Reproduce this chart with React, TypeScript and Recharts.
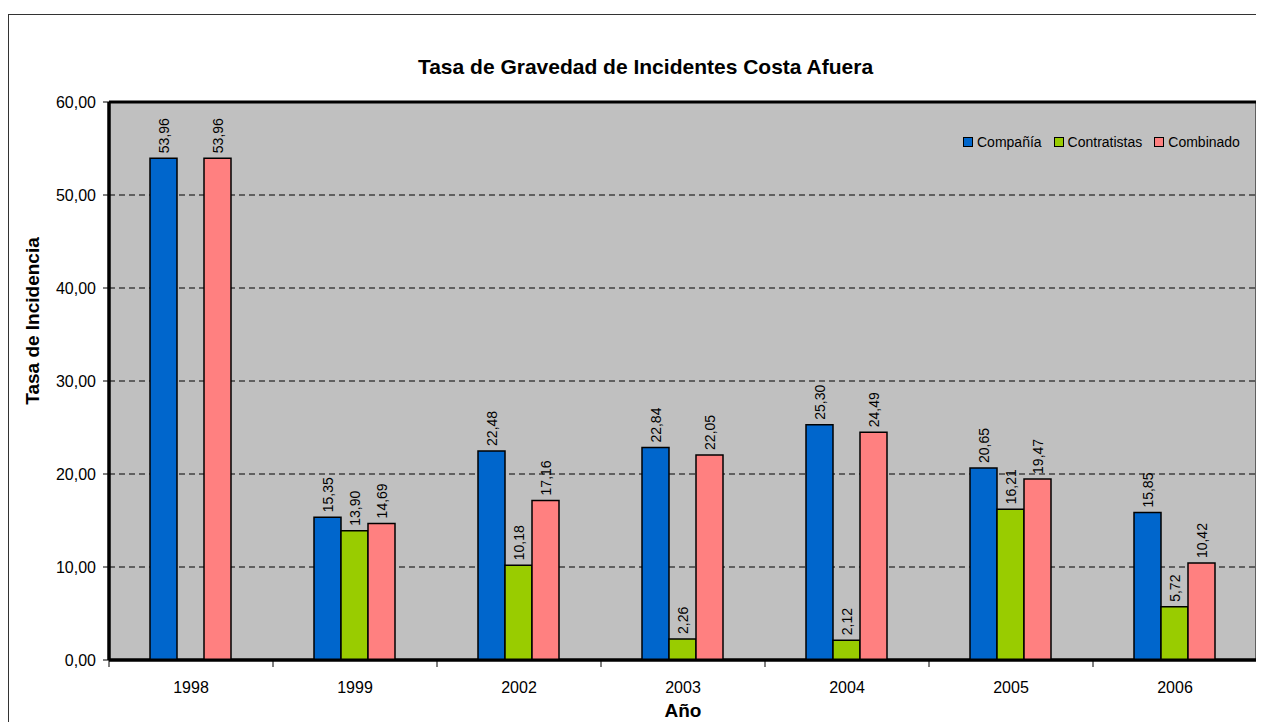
import React from 'react';
import {
  BarChart,
  Bar,
  XAxis,
  YAxis,
  CartesianGrid,
  LabelList,
} from 'recharts';

const years = ['1998', '1999', '2002', '2003', '2004', '2005', '2006'];
const compania = [53.96, 15.35, 22.48, 22.84, 25.3, 20.65, 15.85];
const contratistas = [null, 13.9, 10.18, 2.26, 2.12, 16.21, 5.72];
const combinado = [53.96, 14.69, 17.16, 22.05, 24.49, 19.47, 10.42];
const yTicks = [0, 10, 20, 30, 40, 50, 60];

const FONT = '"Liberation Sans", Arial, sans-serif';

const series = [
  { key: 'compania', name: 'Compañía', color: '#0066CC' },
  { key: 'contratistas', name: 'Contratistas', color: '#99CC00' },
  { key: 'combinado', name: 'Combinado', color: '#FF8080' },
];

const data = years.map((year, i) => ({
  year,
  compania: compania[i],
  contratistas: contratistas[i],
  combinado: combinado[i],
}));

const fmt = (v: number) => v.toFixed(2).replace('.', ',');

// rotated value above the bar
const BarValue = (props: any) => {
  const { x, y, width, value } = props;
  if (value == null) return null;
  const cx = x + width / 2 + 1;
  const ty = y - 5;
  return (
    <text
      x={cx}
      y={ty}
      transform={`rotate(-90, ${cx}, ${ty})`}
      textAnchor="start"
      dominantBaseline="central"
      fontSize={14}
      fill="#000"
      fontFamily={FONT}
    >
      {fmt(value)}
    </text>
  );
};

// category label plus a tick mark on the band's left edge (and right edge for the last one)
const YearTick = (props: any) => {
  const { x, y, payload, index, visibleTicksCount } = props;
  const half = payload.offset || 0;
  const axisY = y - 22;
  return (
    <g>
      <line x1={x - half} x2={x - half} y1={axisY} y2={axisY + 7} stroke="#000" />
      {index === visibleTicksCount - 1 && (
        <line x1={x + half} x2={x + half} y1={axisY} y2={axisY + 7} stroke="#000" />
      )}
      <text x={x} y={y} dy="0.71em" textAnchor="middle" fontSize={16} fill="#000" fontFamily={FONT}>
        {payload.value}
      </text>
    </g>
  );
};

const YTitle = (props: any) => {
  const { viewBox } = props;
  const x = viewBox.x + 23;
  const y = viewBox.y + viewBox.height / 2 - 60;
  return (
    <text
      x={x}
      y={y}
      transform={`rotate(-90, ${x}, ${y})`}
      textAnchor="middle"
      dominantBaseline="central"
      fontSize={19}
      fontWeight={700}
      fontFamily={FONT}
      fill="#000"
    >
      Tasa de Incidencia
    </text>
  );
};

export default function App() {
  return (
    <div
      style={{
        position: 'relative',
        marginTop: 6,
        width: 1280,
        height: 720,
        border: '1px solid #333',
        background: '#fff',
        fontFamily: FONT,
      }}
    >
      <div
        style={{
          position: 'absolute',
          left: 0,
          top: 40,
          width: 1273,
          textAlign: 'center',
          fontSize: 21,
          fontWeight: 700,
          color: '#000',
        }}
      >
        Tasa de Gravedad de Incidentes Costa Afuera
      </div>
      <BarChart
        width={1255}
        height={707}
        data={data}
        margin={{ top: 87, right: 7, left: 0, bottom: 2 }}
        barCategoryGap="25%"
        barGap={0}
      >
        <CartesianGrid
          vertical={false}
          fill="#C0C0C0"
          fillOpacity={1}
          stroke="#000"
          strokeDasharray="6 4"
        />
        <CartesianGrid
          fill="none"
          stroke="#000"
          strokeWidth={3}
          horizontalCoordinatesGenerator={({ offset }: any) => [offset.top, offset.top + offset.height]}
          verticalCoordinatesGenerator={({ offset }: any) => [offset.left, offset.left + offset.width]}
        />
        <XAxis
          dataKey="year"
          height={60}
          tickLine={false}
          axisLine={{ stroke: '#000', strokeWidth: 3 }}
          tickSize={0}
          tickMargin={22}
          interval={0}
          tick={<YearTick />}
          label={{
            value: 'Año',
            position: 'insideBottom',
            offset: 3,
            style: { fill: '#000', fontSize: 19, fontWeight: 700, fontFamily: FONT },
          }}
        />
        <YAxis
          width={100}
          domain={[0, 60]}
          ticks={yTicks}
          interval={0}
          tickFormatter={fmt}
          tickSize={6}
          tickMargin={7}
          tickLine={{ stroke: '#000' }}
          axisLine={{ stroke: '#000', strokeWidth: 3 }}
          tick={{ fill: '#000', fontSize: 16, fontFamily: FONT }}
          label={<YTitle />}
        />
        {series.map((s) => (
          <Bar
            key={s.key}
            dataKey={s.key}
            name={s.name}
            fill={s.color}
            stroke="#000"
            strokeWidth={1.5}
            isAnimationActive={false}
          >
            <LabelList dataKey={s.key} content={<BarValue />} />
          </Bar>
        ))}
      </BarChart>
      <div
        style={{
          position: 'absolute',
          left: 954,
          top: 118,
          display: 'flex',
          alignItems: 'center',
          lineHeight: '18px',
          fontSize: 14,
          color: '#000',
        }}
      >
        {series.map((s) => (
          <div key={s.key} style={{ display: 'flex', alignItems: 'center', marginRight: 12 }}>
            <span
              style={{
                display: 'inline-block',
                width: 8,
                height: 8,
                background: s.color,
                border: '1.5px solid #000',
                marginRight: 4,
              }}
            />
            <span>{s.name}</span>
          </div>
        ))}
      </div>
    </div>
  );
}
